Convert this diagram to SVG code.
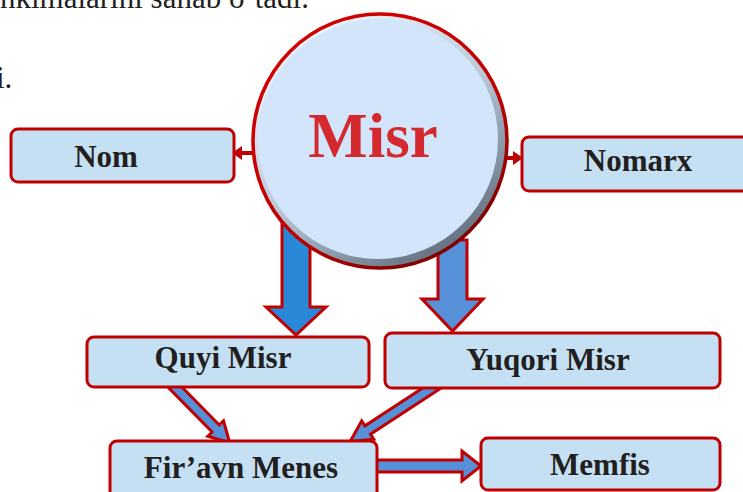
<svg xmlns="http://www.w3.org/2000/svg" width="743" height="492" viewBox="0 0 743 492">
<defs>
<linearGradient id="bevel" x1="0.2" y1="0.05" x2="0.8" y2="0.95">
<stop offset="0" stop-color="#EEF8FE"/>
<stop offset="0.5" stop-color="#B9C9DA"/>
<stop offset="1" stop-color="#5E6B7A"/>
</linearGradient>
<linearGradient id="rim" x1="0.2" y1="0.05" x2="0.8" y2="0.95">
<stop offset="0" stop-color="#D40000"/>
<stop offset="0.6" stop-color="#C00000"/>
<stop offset="1" stop-color="#7A0000"/>
</linearGradient>
</defs>
<style>
.bg{fill:#FFFFFF}
.box{fill:#C5DFF3;stroke:#C00000;stroke-width:3}
.lbl{font-family:"Liberation Serif","Times New Roman",serif;font-weight:bold;font-size:31px;fill:#231F20;text-anchor:middle}
.page{font-family:"Liberation Serif","Times New Roman",serif;font-size:31px;fill:#231F20}
.arr{stroke:#C00000;stroke-width:3;stroke-linejoin:miter}
.a1{fill:#2A88D8}
.a2{fill:#5590D8}
.line{stroke:#C00000;stroke-width:4;fill:none}
.head{fill:#C00000}
</style>
<rect class="bg" x="0" y="0" width="743" height="492"/>
<text class="page" x="309" y="8" text-anchor="end">inkimalarini sanab o‘tadi.</text>
<text class="page" x="-4" y="88">i.</text>

<g id="connectors">
<!-- Misr -> Nom -->
<line class="line" x1="256" y1="153" x2="240" y2="153"/>
<path class="head" d="M232,153 L242,146 L242,160 Z"/>
<!-- Misr -> Nomarx -->
<line class="line" x1="504" y1="158" x2="514" y2="158"/>
<path class="head" d="M523,158 L513,151 L513,165 Z"/>
<!-- Misr -> Quyi Misr -->
<path class="arr a1" transform="translate(296,222) rotate(90)" d="M0,-14 L85,-14 L85,-30 L113,0 L85,30 L85,14 L0,14 Z"/>
<!-- Misr -> Yuqori Misr -->
<path class="arr a2" transform="translate(452.5,240) rotate(90)" d="M0,-14.5 L59,-14.5 L59,-30.5 L91,0 L59,30.5 L59,14.5 L0,14.5 Z"/>
<!-- Quyi Misr -> Fir'avn Menes -->
<path class="arr a2" transform="translate(168,380) rotate(45.5)" d="M0,-5 L68,-5 L68,-11 L88,0 L68,11 L68,5 L0,5 Z"/>
<!-- Yuqori Misr -> Fir'avn Menes -->
<path class="arr a2" transform="translate(438,384) rotate(146.8)" d="M0,-5 L84,-5 L84,-11 L105,0 L84,11 L84,5 L0,5 Z"/>
<!-- Fir'avn Menes -> Memfis -->
<path class="arr a2" transform="translate(372,466)" d="M0,-6 L90,-6 L90,-15 L109,0 L90,15 L90,6 L0,6 Z"/>
</g>

<g id="node-misr">
<circle cx="380" cy="141" r="127" fill="url(#bevel)" stroke="url(#rim)" stroke-width="3.5"/>
<circle cx="378" cy="139" r="120" fill="#D3E5FA"/>
<text x="373" y="157" font-family="'Liberation Serif','Times New Roman',serif" font-weight="bold" font-size="63" fill="#D42A2F" text-anchor="middle">Misr</text>
</g>

<g id="node-nom">
<rect class="box" x="11" y="129" width="223" height="53" rx="7"/>
<text class="lbl" x="106" y="167">Nom</text>
</g>

<g id="node-nomarx">
<rect class="box" x="522" y="137" width="240" height="54" rx="7"/>
<text class="lbl" x="638" y="171">Nomarx</text>
</g>

<g id="node-quyi">
<rect class="box" x="87" y="337" width="282" height="50" rx="7"/>
<text class="lbl" x="223" y="368">Quyi Misr</text>
</g>

<g id="node-yuqori">
<rect class="box" x="385" y="333" width="335" height="55" rx="7"/>
<text class="lbl" x="548" y="370">Yuqori Misr</text>
</g>

<g id="node-firavn">
<rect class="box" x="110" y="441" width="267" height="60" rx="7"/>
<text class="lbl" x="241" y="478">Fir’avn Menes</text>
</g>

<g id="node-memfis">
<rect class="box" x="481" y="438" width="239" height="52" rx="7"/>
<text class="lbl" x="600" y="475">Memfis</text>
</g>
</svg>
